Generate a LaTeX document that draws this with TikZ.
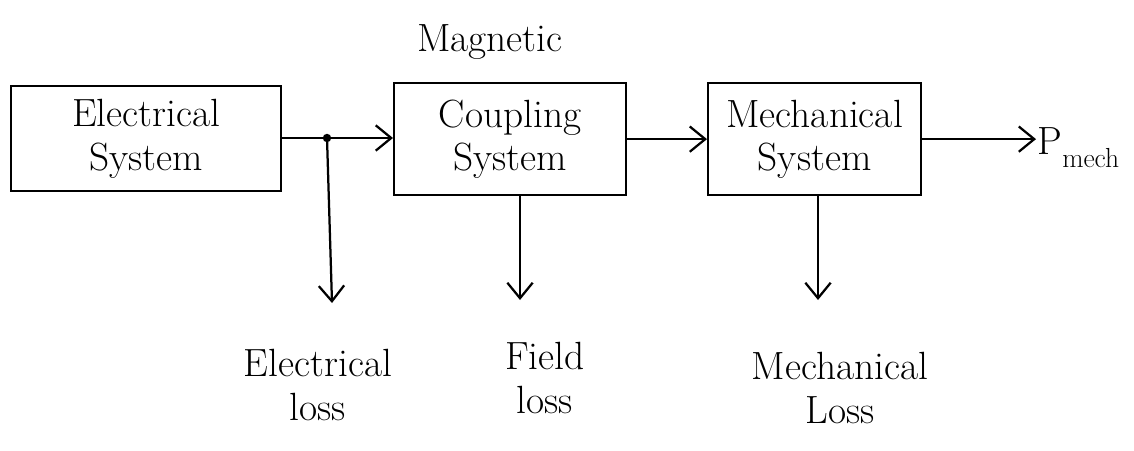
\documentclass[tikz,border=0pt]{standalone}
\usepackage{fontspec}
\setmainfont{Latin Modern Roman}
\usetikzlibrary{arrows.meta}
\begin{document}
\begin{tikzpicture}[x=0.05cm,y=-0.05cm,
  blk/.style={draw,line width=3.2pt,inner sep=0pt},
  lbl/.style={font=\fontsize{56}{62}\selectfont,align=center},
  arr/.style={line width=3.2pt,-{Straight Barb[length=22pt,width=36pt,line width=3.2pt]}}]
\useasboundingbox (0,0) rectangle (1134,450);
\node[blk,minimum width=270*0.05cm,minimum height=105*0.05cm,anchor=north west] (es) at (10,85) {};
\node[lbl] at (es.center) {Electrical\\System};
\node[blk,minimum width=232*0.05cm,minimum height=112*0.05cm,anchor=north west] (mc) at (393,82) {};
\node[lbl] at (mc.center) {Coupling\\System};
\node[lbl] (mag) at (490,42) {Magnetic};
\node[blk,minimum width=213*0.05cm,minimum height=112*0.05cm,anchor=north west] (ms) at (707,82) {};
\node[lbl] at (ms.center) {Mechanical\\System};
\coordinate (dot) at (327,138);
\fill (dot) circle (6pt);
\draw[arr] (es.east |- dot) -- (mc.west |- dot);
\draw[arr] (mc.east) -- (ms.west);
\node[lbl,anchor=west,inner sep=2pt] (pm) at (1036,148) {P\textsubscript{mech}};
\draw[arr] (ms.east) -- (pm.west |- ms.east);
\coordinate (el) at (332,303);
\draw[arr] (dot) -- (el);
\coordinate (fl) at (520,300);
\draw[arr] (mc.south -| fl) -- (fl);
\coordinate (ml) at (818,300);
\draw[arr] (ms.south -| ml) -- (ml);
\node[lbl] (ell) at (318,385) {Electrical\\loss};
\node[lbl] (fll) at (545,378) {Field\\loss};
\node[lbl] (mll) at (840,388) {Mechanical\\Loss};
\end{tikzpicture}
\end{document}
